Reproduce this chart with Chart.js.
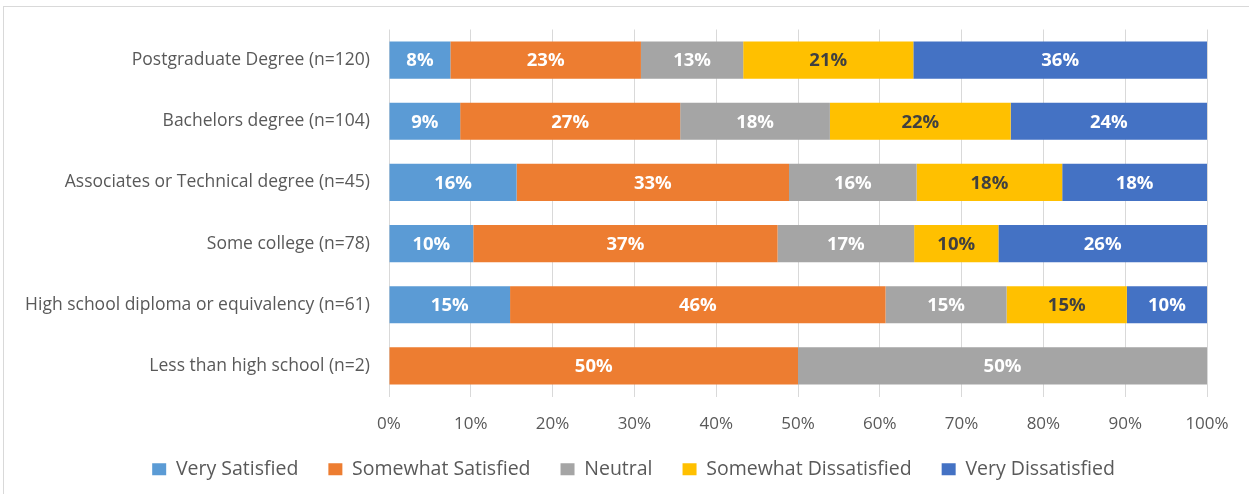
<!DOCTYPE html>
<html>
<head>
<meta charset="utf-8">
<script src="https://cdn.jsdelivr.net/npm/chart.js@4"></script>
<style>
  html, body { margin: 0; padding: 0; background: #fff; overflow: hidden; }
  #frame { position: absolute; left: 3px; top: 6px; width: 1400px; height: 700px; border: 1px solid #d9d9d9; }
  #wrap { position: absolute; left: 0; top: 0; width: 1249px; height: 494px; }
</style>
</head>
<body>
<div id="frame"></div>
<div id="wrap"><canvas id="satChart"></canvas></div>
<script>
// Education levels, top to bottom
const categories = [
    'Postgraduate Degree (n=120)',
    'Bachelors degree (n=104)',
    'Associates or Technical degree (n=45)',
    'Some college (n=78)',
    'High school diploma or equivalency (n=61)',
    'Less than high school (n=2)'
];

// Percent of respondents per level
const verySatisfied = [7.5, 8.7, 15.6, 10.3, 14.8, 0];
const somewhatSatisfied = [23.3, 26.9, 33.3, 37.2, 45.9, 50];
const neutral = [12.5, 18.3, 15.6, 16.7, 14.8, 50];
const somewhatDissatisfied = [20.8, 22.1, 17.8, 10.3, 14.7, 0];
const veryDissatisfied = [35.9, 24.0, 17.7, 25.5, 9.8, 0];

const xTicks = [0, 10, 20, 30, 40, 50, 60, 70, 80, 90, 100];

const FONT = '"Open Sans", "Noto Sans", sans-serif';

// draws the % value in the middle of every segment
const barLabels = {
    id: 'barLabels',
    afterDatasetsDraw(chart) {
        const ctx = chart.ctx;
        ctx.save();
        ctx.font = 'bold 18.5px ' + FONT;
        ctx.textAlign = 'center';
        ctx.textBaseline = 'middle';
        chart.data.datasets.forEach((ds, i) => {
            const meta = chart.getDatasetMeta(i);
            if (meta.hidden) return;
            meta.data.forEach((bar, j) => {
                const v = ds.data[j];
                if (!v) return;
                const p = bar.getProps(['x', 'y', 'base'], true);
                ctx.fillStyle = ds.labelColor;
                ctx.fillText(Math.round(v) + '%', (p.x + p.base) / 2, p.y + 1);
            });
        });
        ctx.restore();
    }
};

// the legend sits a bit right of the canvas centre in the original
const legendShift = {
    id: 'legendShift',
    afterLayout(chart) {
        chart.legend.left += 30;
        chart.legend.right += 30;
    }
};

const ctx = document.getElementById('satChart').getContext('2d');
const satChart = new Chart(ctx, {
    type: 'bar',
    data: {
        labels: categories,
        datasets: [
            { label: 'Very Satisfied', data: verySatisfied, backgroundColor: '#5b9bd5', labelColor: '#ffffff' },
            { label: 'Somewhat Satisfied', data: somewhatSatisfied, backgroundColor: '#ed7d31', labelColor: '#ffffff' },
            { label: 'Neutral', data: neutral, backgroundColor: '#a5a5a5', labelColor: '#ffffff' },
            { label: 'Somewhat Dissatisfied', data: somewhatDissatisfied, backgroundColor: '#ffc000', labelColor: '#404040' },
            { label: 'Very Dissatisfied', data: veryDissatisfied, backgroundColor: '#4472c4', labelColor: '#ffffff' }
        ]
    },
    options: {
        indexAxis: 'y',
        responsive: true,
        maintainAspectRatio: false,
        animation: false,
        datasets: {
            bar: { categoryPercentage: 1, barPercentage: 0.607, borderWidth: 0 }
        },
        layout: { padding: { left: 0, right: 42, top: 29, bottom: 5 } },
        scales: {
            x: {
                stacked: true,
                min: 0,
                max: 100,
                clip: false,
                afterBuildTicks(scale) {
                    scale.ticks = xTicks.map(v => ({ value: v }));
                },
                afterFit(scale) { scale.height = 33; },
                grid: { color: '#d9d9d9', lineWidth: 1, drawTicks: false },
                border: { display: false },
                ticks: {
                    padding: 17,
                    color: '#595959',
                    font: { family: FONT, size: 17 },
                    callback: v => v + '%'
                }
            },
            y: {
                stacked: true,
                afterFit(scale) { scale.width = 389; },
                grid: { display: false, drawTicks: false },
                border: { display: false },
                ticks: {
                    padding: 19,
                    color: '#595959',
                    font: { family: FONT, size: 17.5 }
                }
            }
        },
        plugins: {
            legend: {
                position: 'bottom',
                labels: {
                    boxWidth: 14,
                    boxHeight: 12,
                    padding: 30,
                    color: '#595959',
                    font: { family: FONT, size: 19.5 }
                }
            },
            tooltip: { enabled: false }
        }
    },
    plugins: [barLabels, legendShift]
});
</script>
</body>
</html>
